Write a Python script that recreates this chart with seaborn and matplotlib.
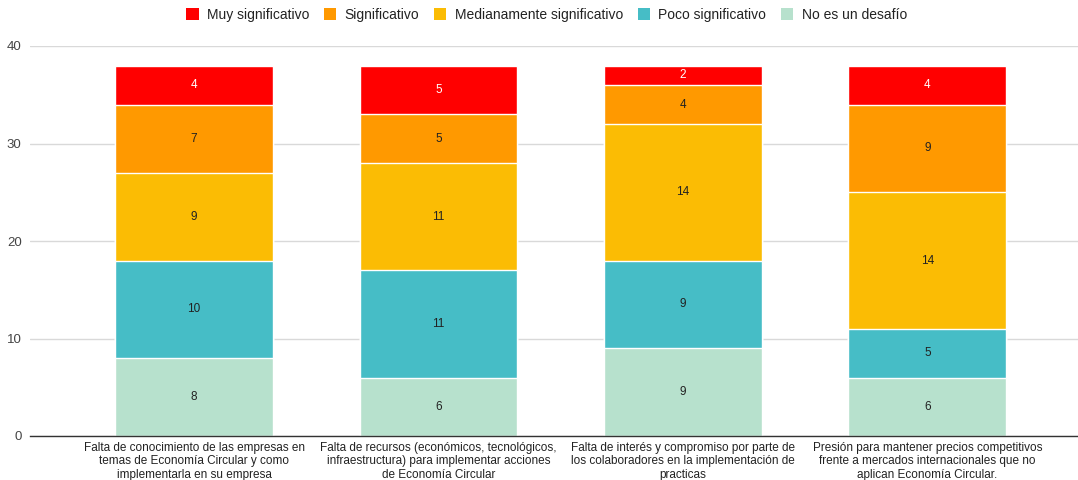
import matplotlib
matplotlib.use("Agg")
import matplotlib.pyplot as plt
import seaborn as sns
import numpy as np
import pandas as pd
from matplotlib.patches import Patch

categories = [
    "Falta de conocimiento de las empresas en\ntemas de Economía Circular y como\nimplementarla en su empresa",
    "Falta de recursos (económicos, tecnológicos,\ninfraestructura) para implementar acciones\nde Economía Circular",
    "Falta de interés y compromiso por parte de\nlos colaboradores en la implementación de\npracticas",
    "Presión para mantener precios competitivos\nfrente a mercados internacionales que no\naplican Economía Circular.",
]
series_names = ["Muy significativo", "Significativo", "Medianamente significativo",
                "Poco significativo", "No es un desafío"]
muy_significativo = [4, 5, 2, 4]
significativo = [7, 5, 4, 9]
medianamente = [9, 11, 14, 14]
poco = [10, 11, 9, 5]
no_desafio = [8, 6, 9, 6]
y_ticks = [0, 10, 20, 30, 40]

colors = ["#ff0000", "#ff9900", "#fbbc04", "#46bdc6", "#b7e1cd"]
text_colors = ["white", "#222222", "#222222", "#222222", "#222222"]

sns.set_theme(style="white")
plt.rcParams["font.family"] = ["Liberation Sans", "DejaVu Sans"]

fig = plt.figure(figsize=(10.78, 4.8), dpi=100)
ax = fig.add_axes([30 / 1078, 1 - 436 / 480, 1 - 30 / 1078, (436 - 46) / 480])

# stacking order bottom -> top
stack = [no_desafio, poco, medianamente, significativo, muy_significativo]
stack_colors = colors[::-1]
stack_text = text_colors[::-1]
cum = np.cumsum(np.array(stack), axis=0)

# draw from top layer (largest cumulative) down so lower layers overlay
for i in range(len(stack) - 1, -1, -1):
    df = pd.DataFrame({"cat": categories, "val": cum[i]})
    sns.barplot(data=df, x="cat", y="val", color=stack_colors[i], width=0.646,
                edgecolor="white", linewidth=1.0, saturation=1, ax=ax,
                legend=False)

# value labels
for i in range(len(stack)):
    for j in range(len(categories)):
        v = stack[i][j]
        bottom = cum[i][j] - v
        ax.text(j, bottom + v / 2, str(v), ha="center", va="center",
                fontsize=8.5, color=stack_text[i])

ax.set_xlim(-0.671, 3.616)
ax.set_ylim(0, 40)
ax.set_yticks(y_ticks)
ax.set_xlabel("")
ax.set_ylabel("")
ax.yaxis.grid(True, color="#d9d9d9", linewidth=1)
ax.set_axisbelow(True)
for s in ["top", "right", "left"]:
    ax.spines[s].set_visible(False)
ax.spines["bottom"].set_color("#333333")
ax.spines["bottom"].set_linewidth(1)
ax.tick_params(axis="y", length=0, pad=6, labelsize=9.5, labelcolor="#444444")
ax.tick_params(axis="x", length=0, pad=4, labelsize=8.5, labelcolor="#222222")
for lbl in ax.get_xticklabels():
    lbl.set_multialignment("center")
if ax.get_legend() is not None:
    ax.get_legend().remove()

# legend in original order
handles = [Patch(facecolor=c, edgecolor="none") for c in colors]
fig.legend(handles, series_names, loc="center", bbox_to_anchor=(0.507, 1 - 15 / 480),
           ncol=5, frameon=False, fontsize=10, handlelength=0.9, handleheight=0.9,
           handletextpad=0.6, columnspacing=1.05, labelcolor="#222222")

fig.savefig("out.png", dpi=100)
